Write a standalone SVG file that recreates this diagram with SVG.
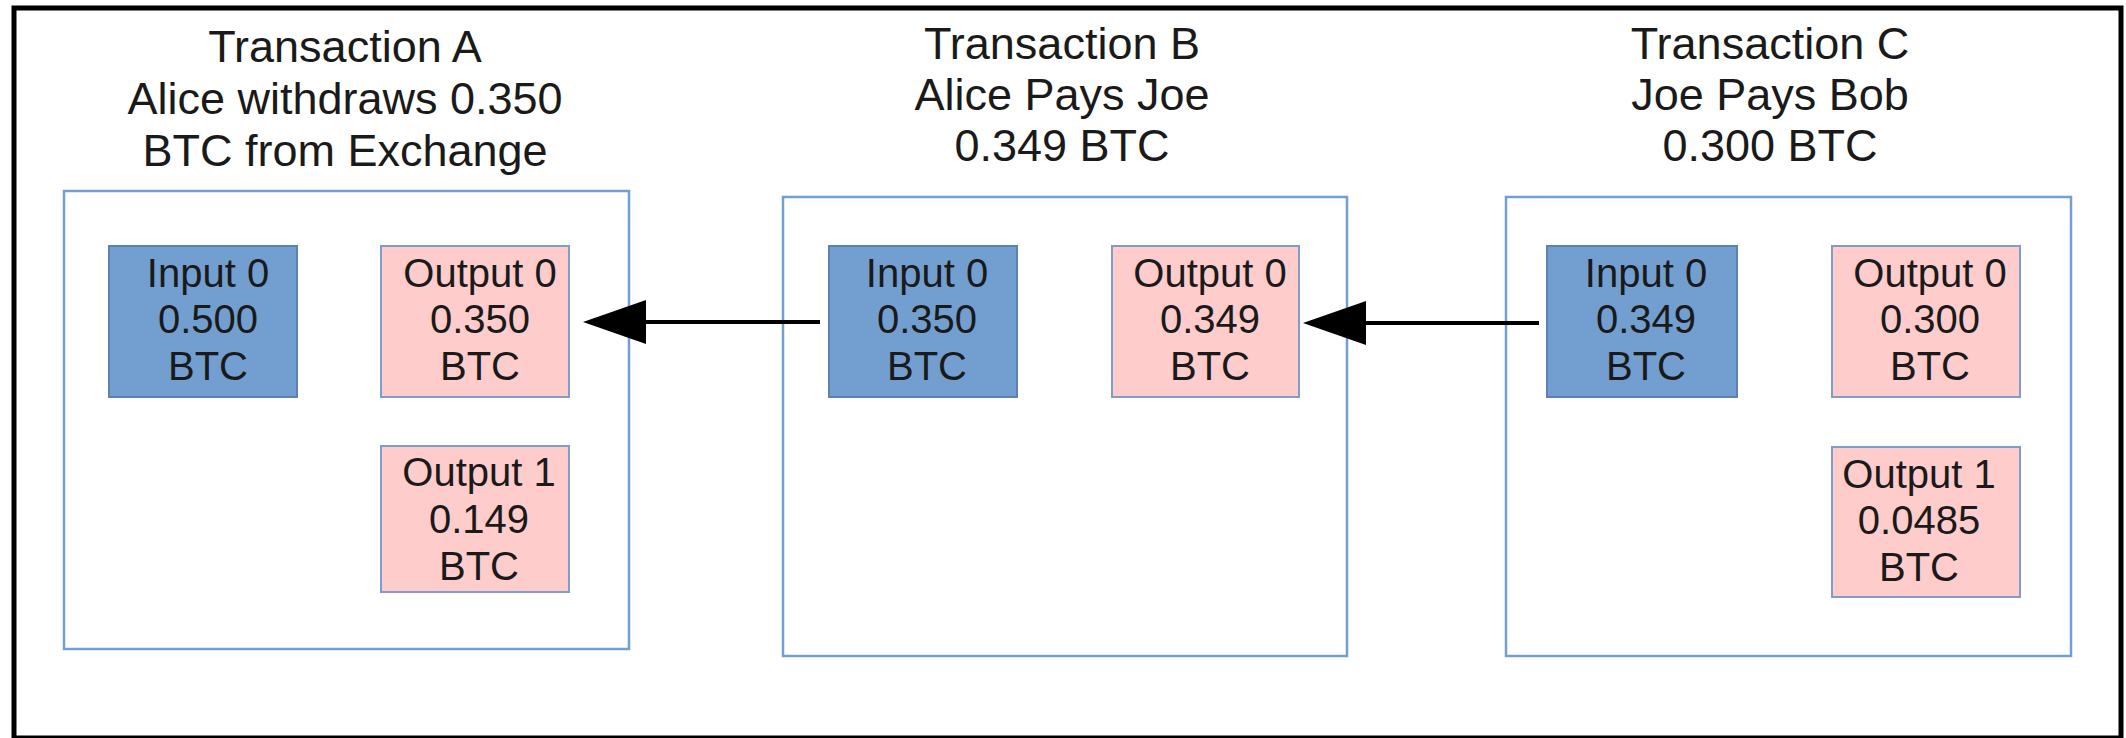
<svg xmlns="http://www.w3.org/2000/svg" width="2126" height="738" viewBox="0 0 2126 738">
  <style>
    .frame { fill: #ffffff; stroke: #000000; stroke-width: 5; }
    .tx { fill: #ffffff; stroke: #729fcf; stroke-width: 2.5; }
    .in { fill: #729fcf; stroke: #5a82b8; stroke-width: 2; }
    .out { fill: #ffcccc; stroke: #7f9ccc; stroke-width: 2; }
    .title { font-family: "Liberation Sans", Arial, sans-serif; font-size: 45px; fill: #1a1a1a; text-anchor: middle; }
    .lbl { font-family: "Liberation Sans", Arial, sans-serif; font-size: 40px; fill: #1a1a1a; text-anchor: middle; }
    .edge { stroke: #000000; stroke-width: 4; fill: none; marker-end: url(#head); }
  </style>
  <defs>
    <marker id="head" markerUnits="userSpaceOnUse" markerWidth="63" markerHeight="44" refX="26" refY="22" orient="auto" viewBox="0 0 63 44">
      <path d="M0,0 L63,22 L0,44 z" fill="#000000"/>
    </marker>
  </defs>

  <!-- outer frame -->
  <rect class="frame" x="14" y="8" width="2107" height="730"/>

  <!-- Transaction A -->
  <g id="tx-a">
    <text class="title" x="345"><tspan x="345" y="62">Transaction A</tspan><tspan x="345" y="114">Alice withdraws 0.350</tspan><tspan x="345" y="166">BTC from Exchange</tspan></text>
    <rect class="tx" x="64" y="191" width="565" height="458"/>
  </g>
  <g id="tx-a-in0">
    <rect class="in" x="109" y="246" width="188" height="151"/>
    <text class="lbl"><tspan x="208" y="287">Input 0</tspan><tspan x="208" y="333">0.500</tspan><tspan x="208" y="380">BTC</tspan></text>
  </g>
  <g id="tx-a-out0">
    <rect class="out" x="381" y="246" width="188" height="151"/>
    <text class="lbl"><tspan x="480" y="287">Output 0</tspan><tspan x="480" y="333">0.350</tspan><tspan x="480" y="380">BTC</tspan></text>
  </g>
  <g id="tx-a-out1">
    <rect class="out" x="381" y="446" width="188" height="146"/>
    <text class="lbl"><tspan x="479" y="486">Output 1</tspan><tspan x="479" y="533">0.149</tspan><tspan x="479" y="580">BTC</tspan></text>
  </g>

  <!-- Transaction B -->
  <g id="tx-b">
    <text class="title"><tspan x="1062" y="59">Transaction B</tspan><tspan x="1062" y="110">Alice Pays Joe</tspan><tspan x="1062" y="161">0.349 BTC</tspan></text>
    <rect class="tx" x="783" y="197" width="564" height="459"/>
  </g>
  <g id="tx-b-in0">
    <rect class="in" x="829" y="246" width="188" height="151"/>
    <text class="lbl"><tspan x="927" y="287">Input 0</tspan><tspan x="927" y="333">0.350</tspan><tspan x="927" y="380">BTC</tspan></text>
  </g>
  <g id="tx-b-out0">
    <rect class="out" x="1112" y="246" width="187" height="151"/>
    <text class="lbl"><tspan x="1210" y="287">Output 0</tspan><tspan x="1210" y="333">0.349</tspan><tspan x="1210" y="380">BTC</tspan></text>
  </g>

  <!-- Transaction C -->
  <g id="tx-c">
    <text class="title"><tspan x="1770" y="59">Transaction C</tspan><tspan x="1770" y="110">Joe Pays Bob</tspan><tspan x="1770" y="161">0.300 BTC</tspan></text>
    <rect class="tx" x="1506" y="197" width="565" height="459"/>
  </g>
  <g id="tx-c-in0">
    <rect class="in" x="1547" y="246" width="190" height="151"/>
    <text class="lbl"><tspan x="1646" y="287">Input 0</tspan><tspan x="1646" y="333">0.349</tspan><tspan x="1646" y="380">BTC</tspan></text>
  </g>
  <g id="tx-c-out0">
    <rect class="out" x="1832" y="246" width="188" height="151"/>
    <text class="lbl"><tspan x="1930" y="287">Output 0</tspan><tspan x="1930" y="333">0.300</tspan><tspan x="1930" y="380">BTC</tspan></text>
  </g>
  <g id="tx-c-out1">
    <rect class="out" x="1832" y="447" width="188" height="150"/>
    <text class="lbl"><tspan x="1919" y="488">Output 1</tspan><tspan x="1919" y="534">0.0485</tspan><tspan x="1919" y="581">BTC</tspan></text>
  </g>

  <!-- spend links: each input points back to the output it consumes -->
  <g id="connectors">
    <line class="edge" x1="820" y1="322" x2="620" y2="322"/>
    <line class="edge" x1="1539" y1="323" x2="1340" y2="323"/>
  </g>
</svg>
